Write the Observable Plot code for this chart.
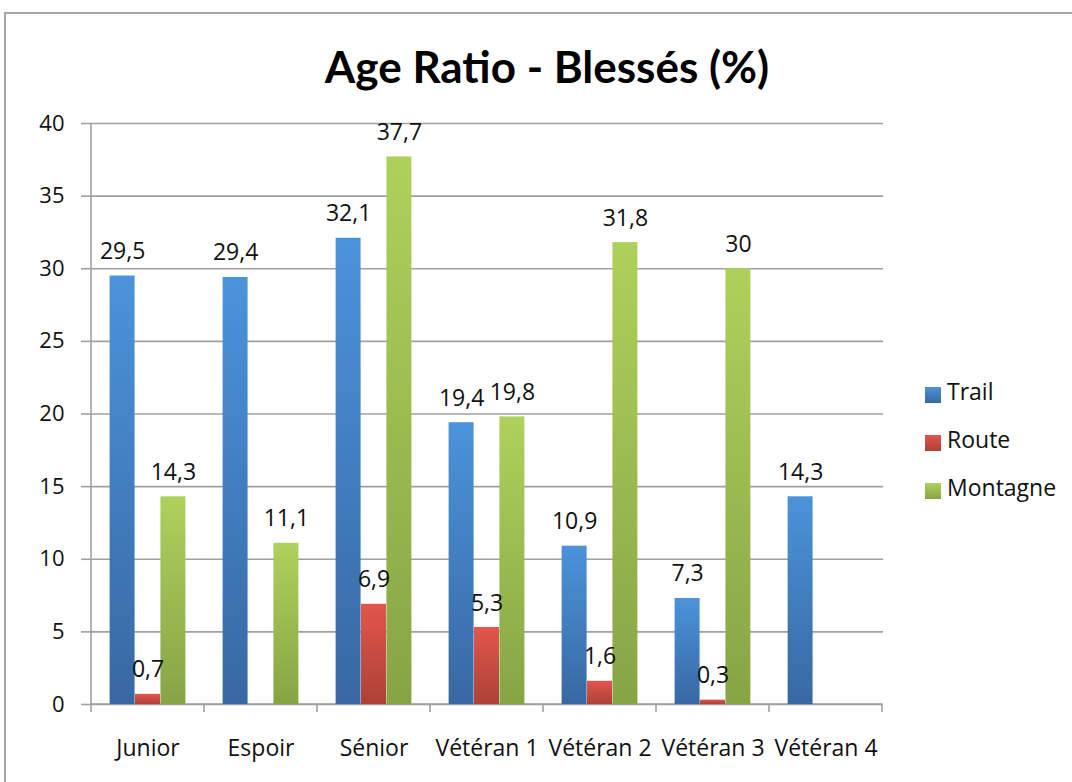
<!DOCTYPE html>
<html>
<head>
<meta charset="utf-8">
<script src="https://cdn.jsdelivr.net/npm/d3@7"></script>
<script src="https://cdn.jsdelivr.net/npm/@observablehq/plot@0.6"></script>
<style>
  html, body { margin: 0; padding: 0; background: #fff; }
  #wrap { position: relative; width: 1072px; height: 782px; overflow: hidden; font-family: "Open Sans", sans-serif; }
  #frame { position: absolute; left: 4px; top: 12px; width: 1100px; height: 800px; border-top: 2px solid #a6a6a6; border-left: 2px solid #a6a6a6; }
  #title { position: absolute; left: 11px; width: 1072px; top: 44px; text-align: center; font-family: Lato, sans-serif; font-weight: 700; font-size: 44px; line-height: 1; color: #000; }
  #chart { position: absolute; left: 0; top: 100px; }
  #legend { position: absolute; left: 925px; top: 384px; }
  .item { position: relative; height: 48px; font-size: 23px; color: #111; }
  .sw { position: absolute; left: 0; top: 3px; width: 16px; height: 16px; }
  .lb { position: absolute; left: 22px; top: -7px; line-height: 1.3; }
</style>
</head>
<body>
<div id="wrap">
  <div id="frame"></div>
  <div id="title">Age Ratio - Blessés (%)</div>
  <div id="chart"></div>
  <div id="legend"></div>
</div>
<script>
const categories = ["Junior", "Espoir", "Sénior", "Vétéran 1", "Vétéran 2", "Vétéran 3", "Vétéran 4"];
const series = ["Trail", "Route", "Montagne"];
const trail = [29.5, 29.4, 32.1, 19.4, 10.9, 7.3, 14.3];
const route = [0.7, null, 6.9, 5.3, 1.6, 0.3, null];
const montagne = [14.3, 11.1, 37.7, 19.8, 31.8, 30, null];
const yTicks = [0, 5, 10, 15, 20, 25, 30, 35, 40];

const gradients = {
  Trail: ["#4b93da", "#3868a2"],
  Route: ["#e2564b", "#ad4137"],
  Montagne: ["#aed15c", "#87a445"]
};

const rows = (vals) => categories.map((c, i) => ({cat: c, v: vals[i]})).filter(d => d.v != null);
const fmt = v => String(v).replace(".", ",");

const W = 1072, H = 682;
const bw = (W - 89 - 189) / categories.length;
const barW = 25.4;
const offs = [-barW, 0, barW];
const seriesData = [trail, route, montagne];

const defsMark = () => {
  const defs = d3.create("svg:defs");
  for (const s of series) {
    const g = defs.append("linearGradient").attr("id", "g-" + s).attr("x1", 0).attr("y1", 0).attr("x2", 0).attr("y2", 1);
    g.append("stop").attr("offset", "0%").attr("stop-color", gradients[s][0]);
    g.append("stop").attr("offset", "100%").attr("stop-color", gradients[s][1]);
  }
  return defs.node();
};

const marks = [defsMark,
  Plot.gridY(yTicks, {stroke: "#a0a0a0", strokeOpacity: 1, strokeWidth: 1.6}),
  Plot.axisY(yTicks, {tickSize: 8, tickPadding: 17, stroke: "#a0a0a0", strokeWidth: 1.6, fontSize: 22, fill: "#111", tickFormat: d => d, label: null}),
  Plot.axisX({tickSize: 0, tickPadding: 35, fontSize: 23, fill: "#111", label: null})
];
const textMarks = [];
series.forEach((s, k) => {
  const centerShift = offs[k];
  const insetLeft = bw / 2 - barW / 2 + centerShift;
  const insetRight = bw / 2 - barW / 2 - centerShift;
  marks.push(Plot.barY(rows(seriesData[k]), {x: "cat", y: "v", fill: `url(#g-${s})`, insetLeft, insetRight}));
  textMarks.push(Plot.text(rows(seriesData[k]), {x: "cat", y: "v", text: d => fmt(d.v), dx: centerShift, dy: -17, lineAnchor: "bottom", fontSize: 23, fill: "#111"}));
});

const plot = Plot.plot({
  width: W, height: H,
  marginLeft: 89, marginRight: 189, marginTop: 23, marginBottom: 78,
  style: {fontFamily: "'Open Sans', sans-serif", background: "transparent"},
  x: {type: "band", domain: categories, paddingInner: 0, paddingOuter: 0},
  y: {domain: [0, 40]},
  marks: [...marks, ...textMarks]
});

// axis lines and boundary ticks drawn from the scales
const xs = plot.scale("x"), ys = plot.scale("y");
const svg = d3.select(plot);
const y0 = ys.apply(0), yTop = ys.apply(40);
const x0 = xs.apply(categories[0]);
const bounds = categories.map(c => xs.apply(c)).concat([xs.apply(categories[categories.length - 1]) + xs.bandwidth]);
const g = svg.append("g").attr("stroke", "#a0a0a0").attr("stroke-width", 1.6);
g.append("line").attr("x1", x0).attr("x2", x0).attr("y1", yTop).attr("y2", y0);
g.append("line").attr("x1", x0).attr("x2", bounds[bounds.length - 1]).attr("y1", y0).attr("y2", y0);
bounds.forEach(b => g.append("line").attr("x1", b).attr("x2", b).attr("y1", y0).attr("y2", y0 + 8));
svg.selectAll("g[aria-label='bar']").raise();
svg.selectAll("g[aria-label='text']").raise();

document.getElementById("chart").appendChild(plot);

const legend = d3.select("#legend");
series.forEach(s => {
  const it = legend.append("div").attr("class", "item");
  it.append("div").attr("class", "sw").style("background", `linear-gradient(${gradients[s][0]}, ${gradients[s][1]})`);
  it.append("div").attr("class", "lb").text(s);
});
</script>
</body>
</html>
